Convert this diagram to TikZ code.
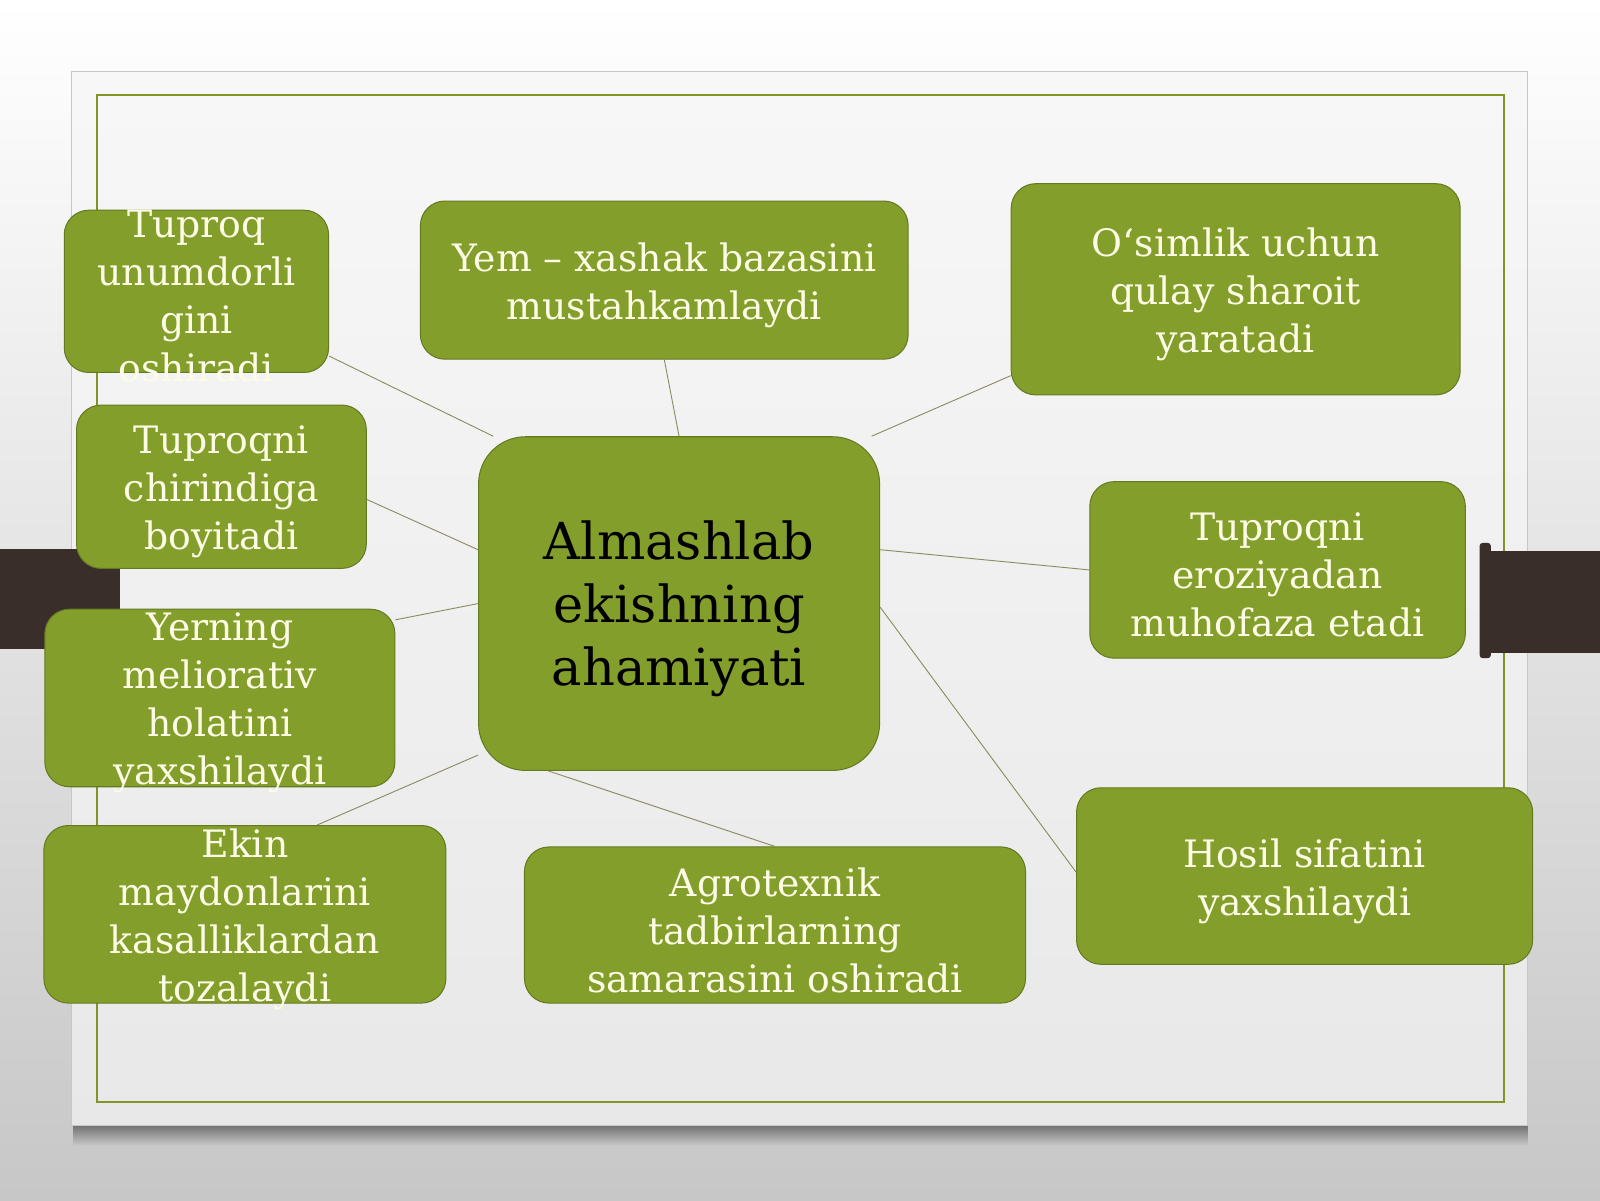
\documentclass[tikz,border=0pt]{standalone}
\usepackage{fontspec}
\setmainfont{DejaVu Serif}
\definecolor{leaf}{RGB}{132,158,44}
\definecolor{leafedge}{RGB}{100,122,32}
\definecolor{cream}{RGB}{252,252,230}
\definecolor{bark}{RGB}{58,46,42}
\definecolor{frame}{RGB}{128,148,40}
\definecolor{twig}{RGB}{140,140,96}

\begin{document}
\begin{tikzpicture}[x = 1pt, y = -1pt,
  box/.style = {draw = leafedge, line width = 1pt, fill = leaf, rounded corners = 24pt, inner sep = 0pt},
  words/.style = {text = cream, align = center, inner sep = 0pt, yshift = -5pt, font = \fontsize{37}{47}\selectfont},
  hub/.style = {draw = leafedge, line width = 1pt, fill = leaf, rounded corners = 46pt, inner sep = 0pt},
  title/.style = {text = black, align = center, inner sep = 0pt, yshift = -5pt, font = \fontsize{50}{62}\selectfont},
  link/.style = {draw = twig, line width = 0.9pt}]
\useasboundingbox (0, 0) rectangle (1568, 1176);
\shade[top color = white, bottom color = black!22] (0, 0) rectangle (1568, 1176);
\shade[top color = black!55, bottom color = black!19] (72, 1103) rectangle (1497, 1124);
\shade[top color = black!3, bottom color = black!9, draw = black!22, line width = 1pt] (70, 70) rectangle (1497, 1103);
\draw[frame, line width = 2.5pt] (95, 93) rectangle (1474, 1080);
\fill[bark] (0, 538) rectangle (118, 636);
\fill[bark, rounded corners = 3pt] (1450, 532) rectangle (1461, 645);
\fill[bark] (1455, 540) rectangle (1568, 640);

\node[hub, minimum width = 393, minimum height = 327, label = {[title]center:Almashlab\\ekishning\\ahamiyati}] (center) at (665.5, 591.5) {};
\node[box, minimum width = 259, minimum height = 159, label = {[words]center:Tuproq\\unumdorli\\gini\\oshiradi}] (fertility) at (192.5, 285.5) {};
\node[box, minimum width = 478, minimum height = 155, label = {[words]center:Yem – xashak bazasini\\mustahkamlaydi}] (fodder) at (651, 274.5) {};
\node[box, minimum width = 440, minimum height = 207, label = {[words]center:O‘simlik uchun\\qulay sharoit\\yaratadi}] (plant) at (1211, 283.5) {};
\node[box, minimum width = 284, minimum height = 160, label = {[words]center:Tuproqni\\chirindiga\\boyitadi}] (humus) at (217, 477) {};
\node[box, minimum width = 368, minimum height = 173, label = {[words]center:Tuproqni\\eroziyadan\\muhofaza etadi}] (erosion) at (1252, 558.5) {};
\node[box, minimum width = 343, minimum height = 174, label = {[words]center:Yerning\\meliorativ\\holatini\\yaxshilaydi}] (melior) at (215.5, 684) {};
\node[box, minimum width = 394, minimum height = 174, label = {[words]center:Ekin\\maydonlarini\\kasalliklardan\\tozalaydi}] (fields) at (240, 896) {};
\node[box, minimum width = 491, minimum height = 153, label = {[words]center:Agrotexnik\\tadbirlarning\\samarasini oshiradi}] (agro) at (759.5, 906.5) {};
\node[box, minimum width = 447, minimum height = 173, label = {[words]center:Hosil sifatini\\yaxshilaydi}] (harvest) at (1278.5, 858.5) {};

\draw[link] (fertility.-26) -- (center.138);
\draw[link] (fodder.south) -- (center.north);
\draw[link] (plant.201) -- (center.41);
\draw[link] (humus.-5) -- (center.165);
\draw[link] (erosion.west) -- (center.15);
\draw[link] (melior.24) -- (center.west);
\draw[link] (fields.51) -- (center.217);
\draw[link] (agro.north) -- (center.232);
\draw[link] (harvest.179) -- (center.-1);
\end{tikzpicture}
\end{document}
